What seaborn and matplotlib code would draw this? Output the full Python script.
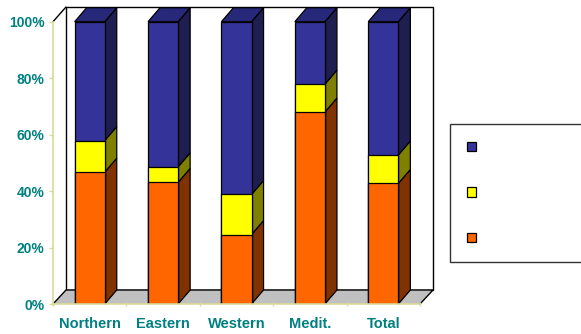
import matplotlib
matplotlib.use("Agg")
import matplotlib.pyplot as plt
from matplotlib.patches import Polygon, Patch
import seaborn as sns
import numpy as np

categories = ["Northern", "Eastern", "Western", "Medit.", "Total"]
orange_vals = [46.7, 43.1, 24.6, 68.0, 42.7]
yellow_vals = [11.2, 5.5, 14.2, 9.9, 10.1]
blue_vals = [42.1, 51.4, 61.2, 22.1, 47.2]
y_ticks = [0, 20, 40, 60, 80, 100]
y_tick_labels = ["0%", "20%", "40%", "60%", "80%", "100%"]

FRONT = {"blue": "#333399", "yellow": "#FFFF00", "orange": "#FF6600"}
SIDE = {"blue": "#1E1E50", "yellow": "#808000", "orange": "#803300"}
TOP_BLUE = "#28287A"
TEAL = "#008080"
AXIS_COL = "#DADA98"

sns.set_theme(style="white")
plt.rcParams["font.family"] = ["Liberation Sans", "DejaVu Sans"]

W, H = 581, 334
fig = plt.figure(figsize=(W / 100, H / 100), dpi=100)
ax_l, ax_b, ax_w, ax_h = 53, 30, 367, 282.3
ax = fig.add_axes([ax_l / W, ax_b / H, ax_w / W, ax_h / H])
ax.set_xlim(-0.5, len(categories) - 0.5)
ax.set_ylim(0, 100)
ax.patch.set_alpha(0)

# 3D depth offsets converted to data units
px_x = ax_w / len(categories)
px_y = ax_h / 100.0
wall_dx, wall_dy = 13 / px_x, 14 / px_y
bar_dx, bar_dy = 12 / px_x, 14 / px_y
bw = 0.41

x0, x1 = -0.5, len(categories) - 0.5
# back wall
ax.add_patch(Polygon([(x0 + wall_dx, wall_dy), (x1 + wall_dx, wall_dy),
                      (x1 + wall_dx, 100 + wall_dy * 1.05), (x0 + wall_dx, 100 + wall_dy * 1.05)],
                     closed=True, facecolor="white", edgecolor="black", lw=1.0,
                     clip_on=False, zorder=0.2))
# left wall top edge
ax.plot([x0, x0 + wall_dx], [100, 100 + wall_dy * 1.05], color="black", lw=1.0,
        clip_on=False, zorder=0.3)
# floor
ax.add_patch(Polygon([(x0, 0), (x1, 0), (x1 + wall_dx, wall_dy), (x0 + wall_dx, wall_dy)],
                     closed=True, facecolor="#C0C0C0", edgecolor="none",
                     clip_on=False, zorder=0.3))
ax.plot([x0, x0 + wall_dx, x1 + wall_dx, x1], [0, wall_dy, wall_dy, 0],
        color="black", lw=1.0, clip_on=False, zorder=0.35)

cum1 = np.array(orange_vals)
cum2 = cum1 + np.array(yellow_vals)
cum3 = cum2 + np.array(blue_vals)

for vals, key in [(cum3, "blue"), (cum2, "yellow"), (cum1, "orange")]:
    sns.barplot(x=categories, y=vals, color=FRONT[key], saturation=1, width=bw,
                edgecolor="black", linewidth=0.9, errorbar=None, ax=ax, zorder=2)

# side and top faces
segments = [(np.zeros(len(categories)), cum1, "orange"), (cum1, cum2, "yellow"), (cum2, cum3, "blue")]
for i in range(len(categories)):
    xr = i + bw / 2
    xl = i - bw / 2
    for lo, hi, key in segments:
        ax.add_patch(Polygon([(xr, lo[i]), (xr, hi[i]), (xr + bar_dx, hi[i] + bar_dy),
                              (xr + bar_dx, lo[i] + bar_dy)], closed=True,
                             facecolor=SIDE[key], edgecolor="black", lw=0.9,
                             clip_on=False, zorder=1.5))
    top = cum3[i]
    ax.add_patch(Polygon([(xl, top), (xr, top), (xr + bar_dx, top + bar_dy),
                          (xl + bar_dx, top + bar_dy)], closed=True,
                         facecolor=TOP_BLUE, edgecolor="black", lw=0.9,
                         clip_on=False, zorder=1.5))

# axes styling
for s in ["top", "right"]:
    ax.spines[s].set_visible(False)
for s in ["left", "bottom"]:
    ax.spines[s].set_visible(True)
    ax.spines[s].set_color(AXIS_COL)
    ax.spines[s].set_linewidth(1.2)
    ax.spines[s].set_zorder(3)

ax.set_yticks(y_ticks)
ax.set_yticklabels(y_tick_labels)
ax.set_xticks(range(len(categories)))
ax.set_xticklabels(categories)
ax.set_xticks(np.arange(-0.5, len(categories), 1.0), minor=True)
ax.tick_params(axis="y", which="major", length=3, width=1, color=AXIS_COL, left=True,
               labelsize=10, labelcolor=TEAL, pad=3)
ax.tick_params(axis="x", which="major", length=0, labelsize=10.5, labelcolor=TEAL, pad=9)
ax.tick_params(axis="x", which="minor", length=3, width=1, color=AXIS_COL,
               direction="inout", bottom=True)
for lab in ax.get_xticklabels() + ax.get_yticklabels():
    lab.set_fontweight("bold")
ax.set_xlabel("")
ax.set_ylabel("")
ax.grid(False)

# legend (no text)
handles = [Patch(facecolor=FRONT[k], edgecolor="black", lw=0.9) for k in ["blue", "yellow", "orange"]]
leg = fig.legend(handles, [" " * 40] * 3, loc="upper left",
                 bbox_to_anchor=(450 / W, 1 - 124 / H), frameon=True, fancybox=False,
                 handlelength=0.65, handleheight=0.65, labelspacing=2.25, fontsize=10,
                 borderpad=1.2, handletextpad=0.5, borderaxespad=0)
leg.get_frame().set_edgecolor("black")
leg.get_frame().set_linewidth(1.0)

fig.savefig("out.png", dpi=100)
